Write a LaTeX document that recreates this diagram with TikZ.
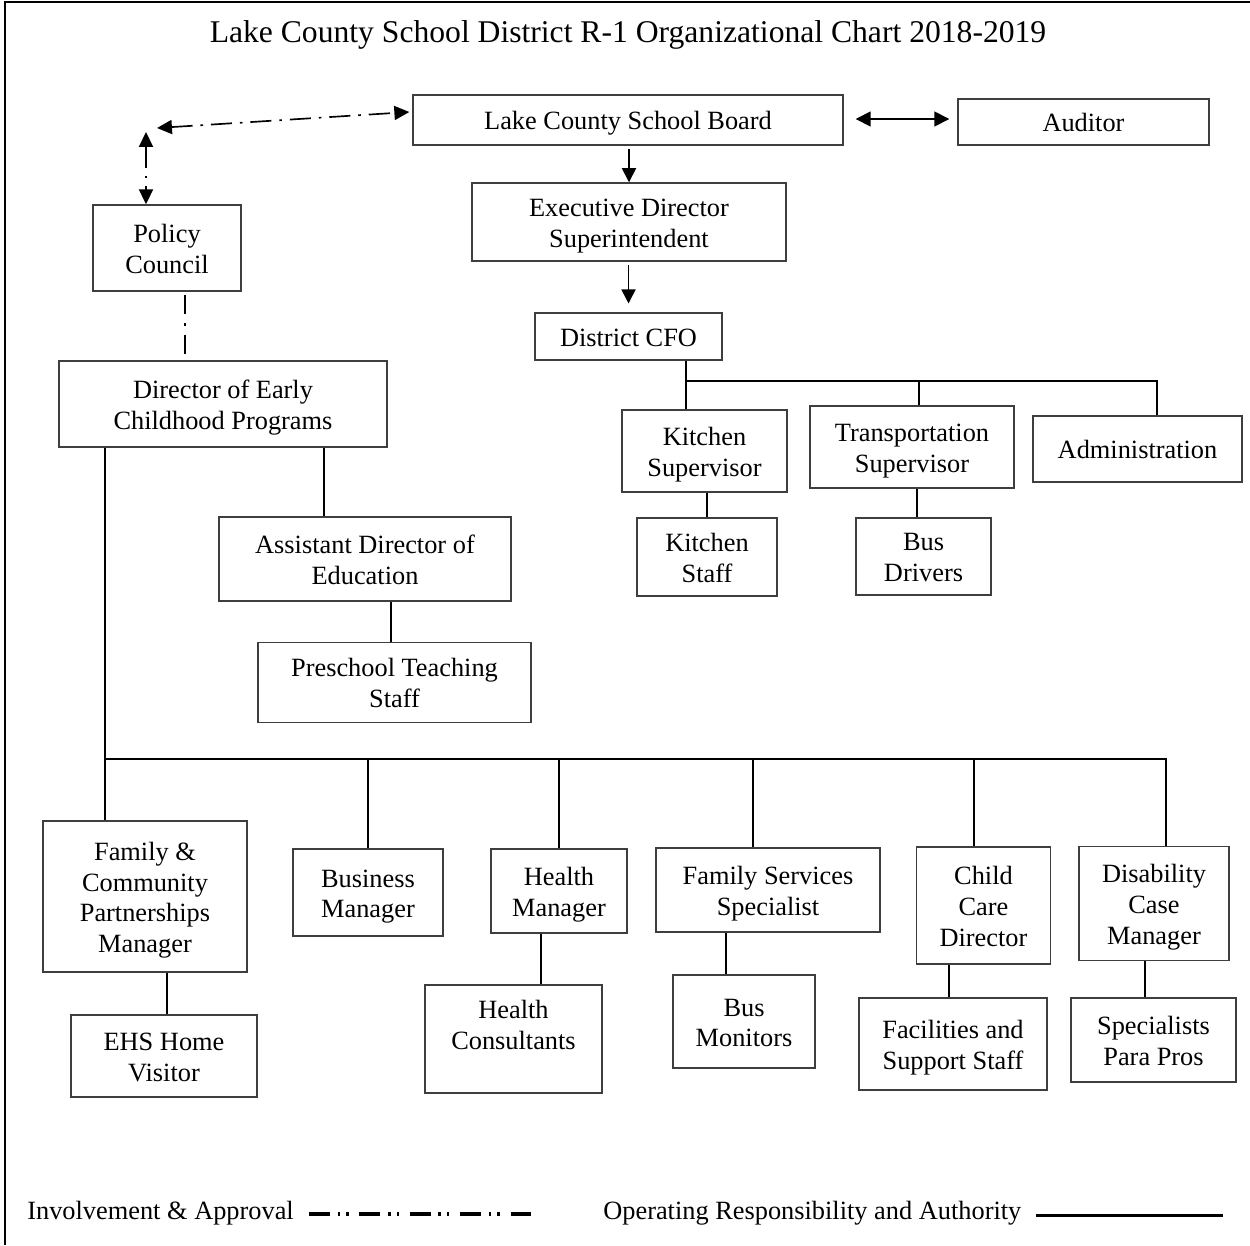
\documentclass[tikz,border=0pt]{standalone}
\usepackage{fontspec}
\setmainfont{Liberation Serif}
\usepackage{tikz}
\usetikzlibrary{arrows.meta, calc}
\definecolor{LCBorder}{RGB}{62,62,62}
\definecolor{LCLine}{RGB}{0,0,0}
\newcommand{\lctop}{\rule{0pt}{16.6pt}}

\begin{document}
\begin{tikzpicture}[x=0.02cm, y=-0.02cm,
      box/.style={rectangle, draw=LCBorder, line width=0.85pt, align=center,
                  font=\fontsize{15}{17.6}\selectfont, inner sep=2pt,
                  execute at begin node={\rule{0pt}{16.6pt}}, execute at end node=\strut},
      link/.style={draw=LCLine, line width=0.95pt},
      arr/.style={link, -{Triangle[length=8pt, width=8pt]}},
      dblarr/.style={link, {Triangle[length=8.5pt, width=8.5pt]}-{Triangle[length=8.5pt, width=8.5pt]}},
      involve/.style={link, dash pattern=on 12pt off 4.5pt on 1.5pt off 4.5pt},
      legtext/.style={font=\fontsize{15}{17.6}\selectfont, anchor=base west, inner sep=0pt}
    ]
    \useasboundingbox (0,0) rectangle (1250,1245);
    % Frame
    \draw[line width=1.1pt] (5,1245) -- (5,2) -- (1250,2);

    % Title
    \node[font=\fontsize{18}{21}\selectfont] (title) at (628,35)
          {Lake County School District R-1 Organizational Chart 2018-2019};

    % Board and district office
    \node[box, minimum width=8.6cm,  minimum height=1.0cm]  (board)   at (628,120) {Lake County School Board};
    \node[box, minimum width=5.02cm, minimum height=0.92cm] (auditor) at (1083.5,122) {Auditor};
    \node[box, minimum width=6.28cm, minimum height=1.56cm] (execdir) at (629,222)
          {\rule{0pt}{17pt}Executive Director\\Superintendent};
    \node[box, minimum width=3.74cm, minimum height=0.94cm] (cfo)     at (628.5,336.5) {District CFO};

    % CFO branch
    \node[box, minimum width=3.3cm,  minimum height=1.64cm] (kitchensup)   at (704.5,451) {\lctop Kitchen\\Supervisor};
    \node[box, minimum width=4.08cm, minimum height=1.64cm] (transsup)     at (912,447) {\lctop Transportation\\Supervisor};
    \node[box, minimum width=4.18cm, minimum height=1.32cm] (admin)        at (1137.5,449) {Administration};
    \node[box, minimum width=2.8cm,  minimum height=1.56cm] (kitchenstaff) at (707,557) {\lctop Kitchen\\Staff};
    \node[box, minimum width=2.7cm,  minimum height=1.54cm] (busdrivers)   at (923.5,556.5) {\lctop Bus\\Drivers};

    % Early childhood side
    \node[box, minimum width=2.96cm, minimum height=1.72cm] (policy)     at (167,248) {\lctop Policy\\Council};
    \node[box, minimum width=6.56cm, minimum height=1.72cm] (ecdirector) at (223,404) {\lctop Director of Early\\Childhood Programs};
    \node[box, minimum width=5.84cm, minimum height=1.68cm] (asstdir)    at (365,559) {\lctop Assistant Director of\\Education};
    \node[box, minimum width=5.46cm, minimum height=1.6cm]  (preschool)  at (394.5,682.5) {\lctop Preschool Teaching\\Staff};

    % Bottom row
    \node[box, minimum width=4.08cm, minimum height=3.02cm] (family)      at (145,896.5) {\lctop Family \&\\Community\\Partnerships\\Manager};
    \node[box, minimum width=3.72cm, minimum height=1.64cm] (ehs)         at (164,1056) {\lctop EHS Home\\Visitor};
    \node[box, minimum width=3.0cm,  minimum height=1.74cm] (business)    at (368,892.5) {\lctop Business\\Manager};
    \node[box, minimum width=2.72cm, minimum height=1.68cm] (healthmgr)   at (559,891) {\lctop Health\\Manager};
    \node[box, minimum width=3.54cm, minimum height=2.16cm] (healthcons)  at (513.5,1039)
          {Health\\Consultants\rule[-16pt]{0pt}{1pt}};
    \node[box, minimum width=4.48cm, minimum height=1.68cm] (famserv)     at (768,890) {\lctop Family Services\\Specialist};
    \node[box, minimum width=2.84cm, minimum height=1.86cm] (busmon)      at (744,1021.5) {\lctop Bus\\Monitors};
    \node[box, minimum width=2.68cm, minimum height=2.34cm] (childcare)   at (983.5,905.5) {\lctop Child\\Care\\Director};
    \node[box, minimum width=3.76cm, minimum height=1.84cm] (facilities)  at (953,1044) {\lctop Facilities and\\Support Staff};
    \node[box, minimum width=3.0cm,  minimum height=2.28cm] (disability)  at (1154,903.5) {\lctop Disability\\Case\\Manager};
    \node[box, minimum width=3.3cm,  minimum height=1.68cm] (specialists) at (1153.5,1040) {\lctop Specialists\\Para Pros};

    % Junction points
    \coordinate (pcH)     at (157,128);
    \coordinate (pcV)     at (146,132);
    \coordinate (pcDir)   at (185,295);
    \coordinate (cfoBusL) at (686,381);
    \coordinate (cfoBusR) at (1157,381);
    \coordinate (ecBusL)  at (105,759);
    \coordinate (ecBusR)  at (1166,759);

    % Board links
    \draw[dblarr] ($(board.east)+(12,-1)$) -- ($(auditor.west)+(-8,-3)$);
    \draw[arr, shorten <=2pt] (execdir.north |- board.south) -- (execdir.north);
    \draw[arr, shorten <=2pt, shorten >=5pt] (cfo.north |- execdir.south) -- (cfo.north);

    % Involvement & approval
    \draw[involve, {Triangle[length=8.5pt, width=8pt]}-{Triangle[length=8.5pt, width=8pt]}]
          (pcH) -- ($(board.west)+(-3,-8)$);
    \draw[involve, {Triangle[length=8.5pt, width=8pt]}-{Triangle[length=8.5pt, width=8pt]}]
          (pcV) -- (pcV |- policy.north);
    \draw[involve, dash pattern=on 11pt off 5pt on 1.5pt off 5pt]
          (pcDir) -- ($(pcDir |- ecdirector.north)+(0,-4)$);

    % CFO tree
    \draw[link] (cfoBusL |- cfo.south) -- (cfoBusL |- kitchensup.north);
    \draw[link] (cfoBusL) -- (cfoBusR) -- (cfoBusR |- admin.north);
    \draw[link] (919,0 |- transsup.north) -- (919,0 |- cfoBusL);
    \draw[link] (kitchenstaff.north) -- (kitchenstaff.north |- kitchensup.south);
    \draw[link] (917,0 |- transsup.south) -- (917,0 |- busdrivers.north);

    % Early childhood tree
    \draw[link] (324,0 |- ecdirector.south) -- (324,0 |- asstdir.north);
    \draw[link] (391,0 |- asstdir.south) -- (391,0 |- preschool.north);
    \draw[link] (ecBusL |- ecdirector.south) -- (ecBusL |- family.north);
    \draw[link] (ecBusL) -- (ecBusR) -- (ecBusR |- disability.north);
    \draw[link] (business.north) -- (business.north |- ecBusL);
    \draw[link] (healthmgr.north) -- (healthmgr.north |- ecBusL);
    \draw[link] (753,0 |- famserv.north) -- (753,0 |- ecBusL);
    \draw[link] (974,0 |- childcare.north) -- (974,0 |- ecBusL);

    % Second level
    \draw[link] (167,0 |- family.south) -- (167,0 |- ehs.north);
    \draw[link] (541,0 |- healthmgr.south) -- (541,0 |- healthcons.north);
    \draw[link] (726,0 |- famserv.south) -- (726,0 |- busmon.north);
    \draw[link] (949,0 |- childcare.south) -- (949,0 |- facilities.north);
    \draw[link] (1145,0 |- disability.south) -- (1145,0 |- specialists.north);

    % Legend
    \node[legtext] (legInvolve) at (27,1219) {Involvement \& Approval};
    \node[legtext] (legOperate) at (603,1219) {Operating Responsibility and Authority};
    \coordinate (legDashA) at (309,1214);
    \coordinate (legDashB) at (531,1214);
    \coordinate (legLineA) at (1036,1215);
    \coordinate (legLineB) at (1223,1215);
    \draw[line width=2pt, dash pattern=on 11.9pt off 4.4pt on 1.4pt off 3.4pt on 1.4pt off 6.2pt]
          (legDashA) -- (legDashB);
    \draw[line width=1.7pt] (legLineA) -- (legLineB);
  \end{tikzpicture}
\end{document}
